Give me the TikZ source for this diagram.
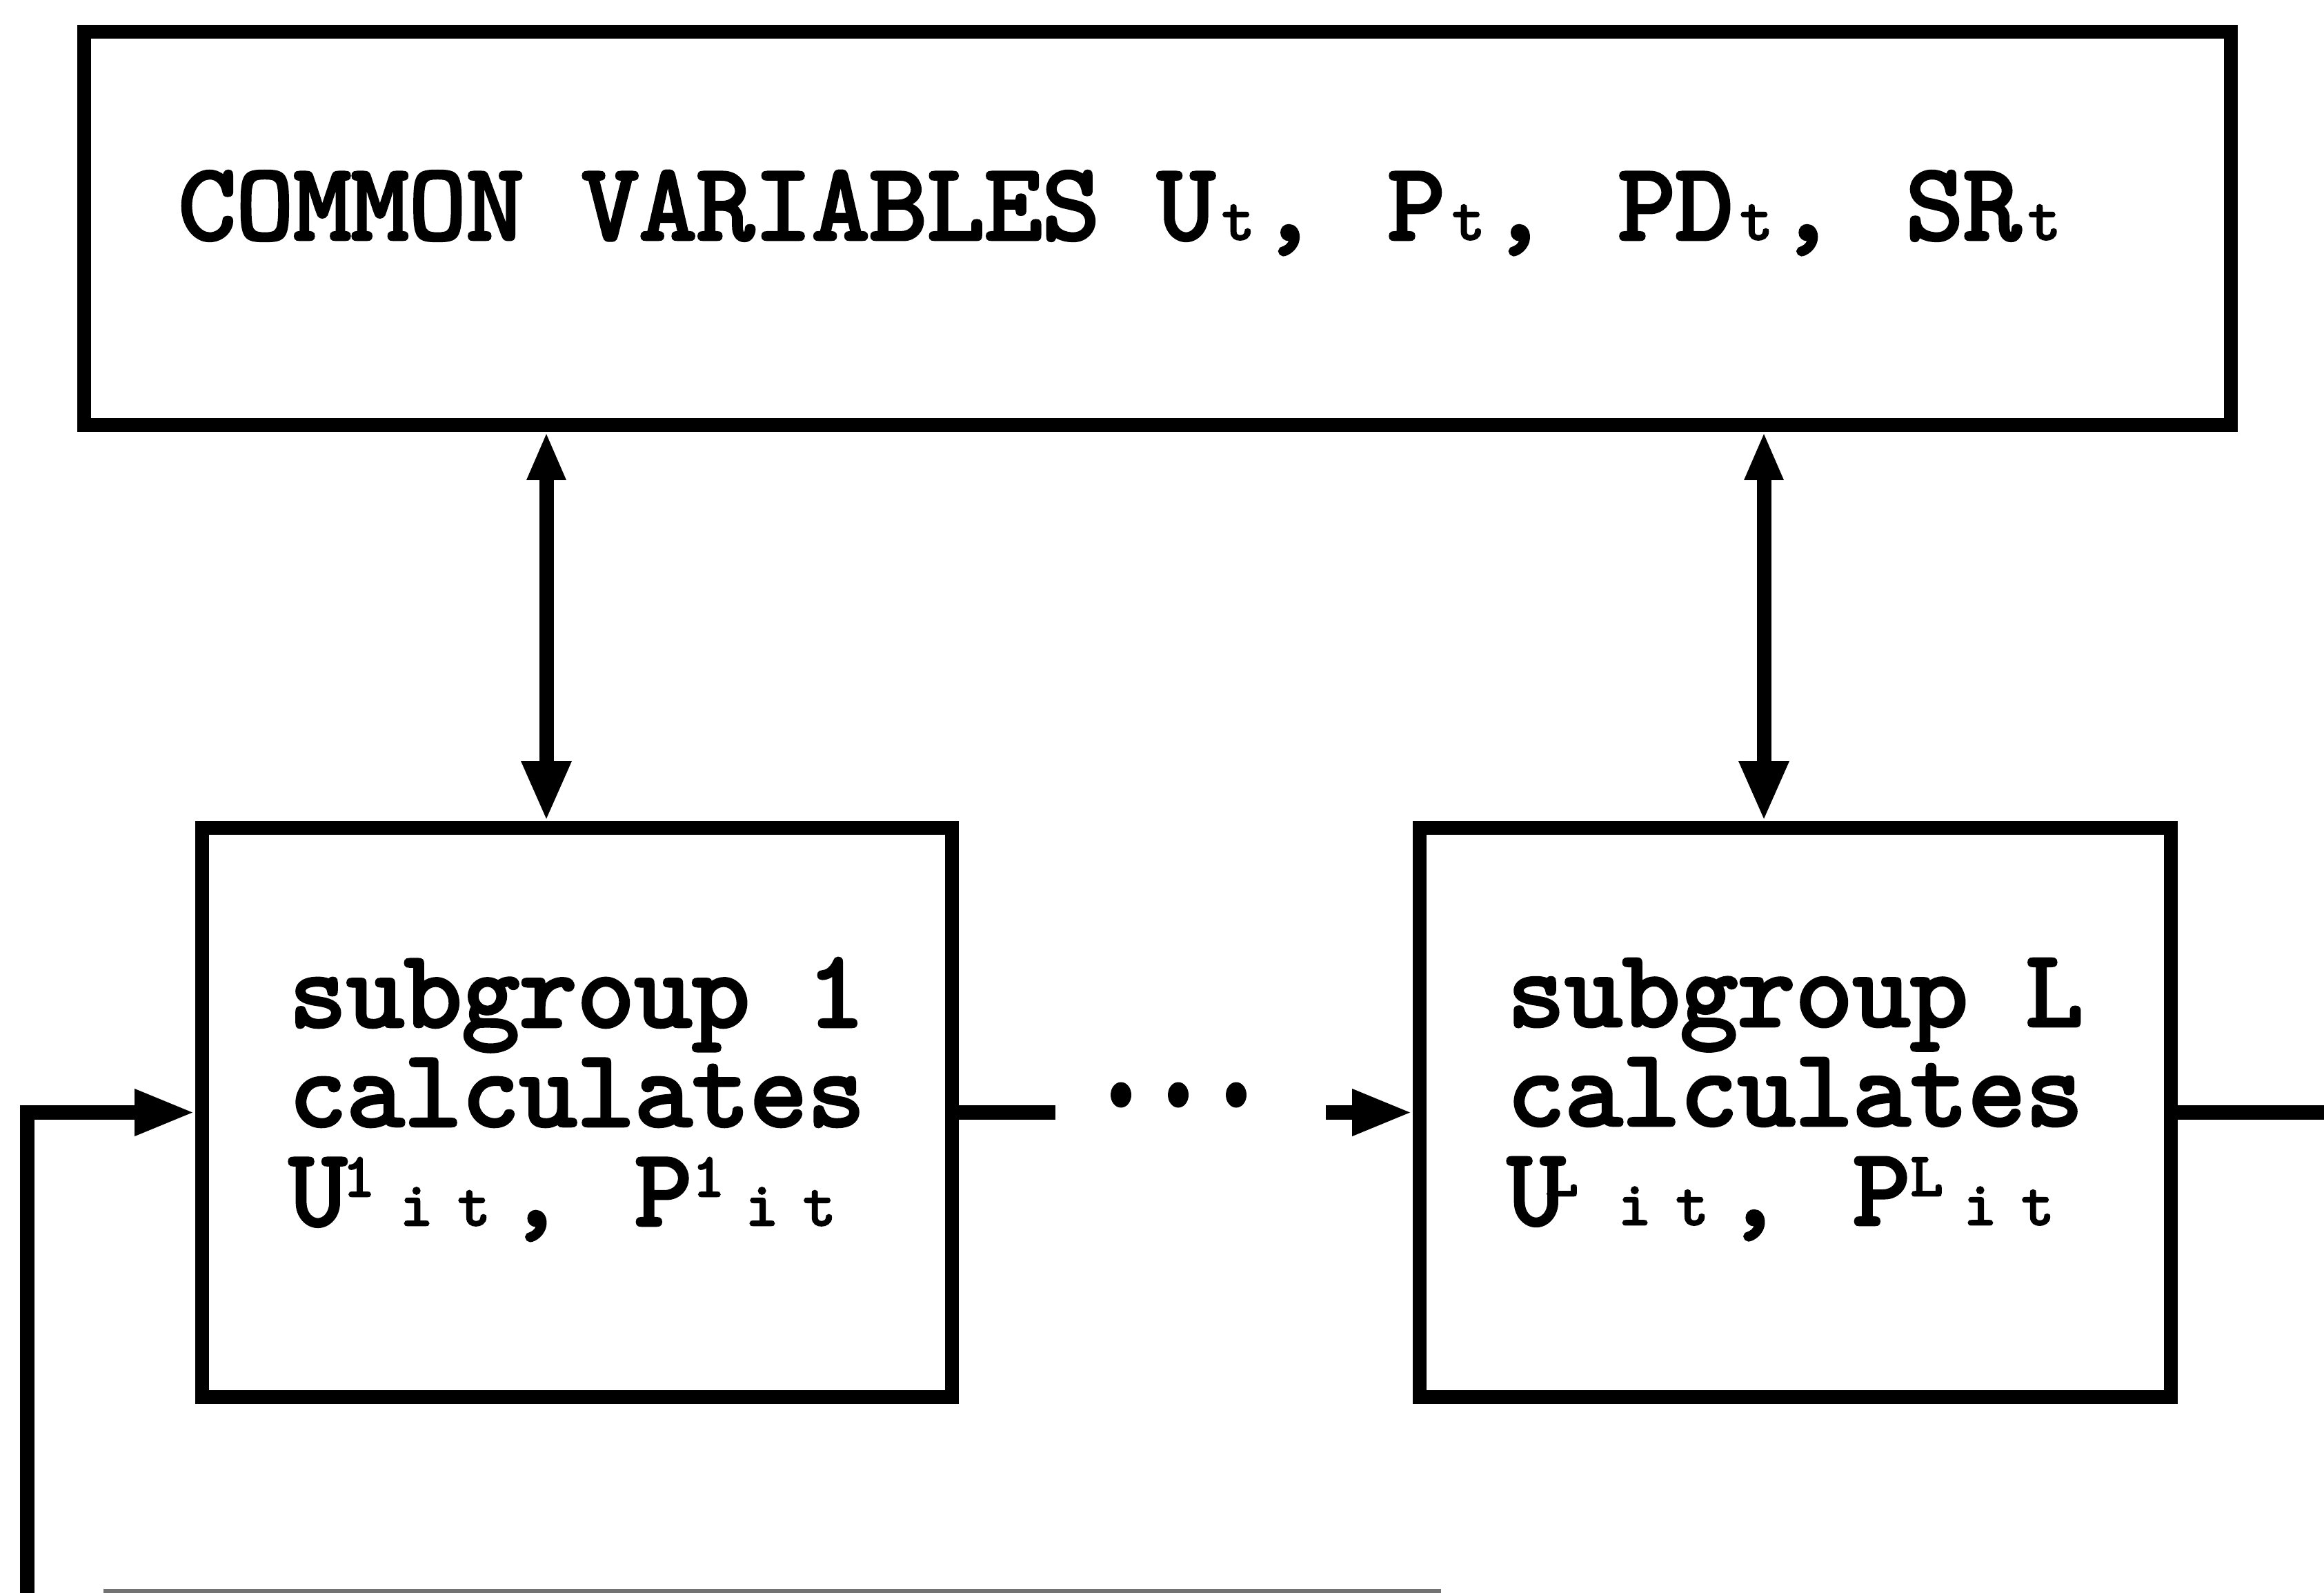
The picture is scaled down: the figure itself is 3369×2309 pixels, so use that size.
\documentclass[tikz,border=0pt]{standalone}
\usepackage{fontspec}
\usetikzlibrary{arrows.meta}

% heavy typewriter face
\newfontfamily\typer{lmmono10-regular}[Extension=.otf, FakeBold=3]

% monospaced cell width of the main face (0.525 em at 15.9pt)
\newlength\cellw
\setlength\cellw{8.3475pt}
\newcommand\mainface{\typer\fontsize{15.9}{14.4}\selectfont}
\newcommand\smallface{\typer\fontsize{9}{9}\selectfont}
% small character sitting on the baseline, one cell wide
\newcommand\lowch[1]{\makebox[\cellw][l]{\kern-0.6pt\smallface #1}}
% small baseline character centred in its cell
\newcommand\lowchc[1]{\makebox[\cellw][c]{\kern-1.6pt\smallface #1}}
% small raised character, one cell wide, optionally pulled left
\newcommand\upch[2][0pt]{\makebox[\cellw][l]{\kern#1\raisebox{4.2pt}{\smallface #2}}}
% comma set towards the left of its cell
\newcommand\tcomma{\kern-1.8pt,\kern1.8pt}

\begin{document}
\begin{tikzpicture}[x=0.1pt, y=-0.1pt,
  box/.style={draw, line width=2pt, inner sep=0pt, font=\mainface},
  link/.style={line width=2.1pt},
  arrowto/.style={link, -{Triangle[length=8.8pt,width=6.2pt]}},
  biarrow/.style={link, {Triangle[length=7pt,width=5.2pt]}-{Triangle[length=8.7pt,width=6.7pt]}}]

  \useasboundingbox (0,0) rectangle (3369,2309);
  \fill[white] (0,0) rectangle (3369,2309);
  \clip (0,0) rectangle (3369,2309);

  % shared variables
  \node[box, minimum width=311.2pt, minimum height=57pt, text depth=6.7pt]
    (common) at (1678,331)
    {\hbox{COMMON VARIABLES U\lowchc{t}\tcomma{} P\lowchc{t}\tcomma{} PD\lowchc{t}\tcomma{} SR\lowchc{t}\kern8.4pt}};

  % subgroups
  \node[box, minimum width=108.7pt, minimum height=82.5pt, text depth=6pt]
    (sg1) at (836.5,1612.5)
    {\vbox{\baselineskip=14.4pt\lineskiplimit=-\maxdimen
      \hbox{subgroup 1}
      \hbox{calculates}
      \hbox{U\upch[-0.6pt]{1}\lowch{i}\lowch{t}\tcomma{} P\upch{1}\lowch{i}\lowch{t}}}};

  \node[box, minimum width=108.9pt, minimum height=82.5pt, text depth=6pt]
    (sgL) at (2602.5,1612.5)
    {\vbox{\baselineskip=14.4pt\lineskiplimit=-\maxdimen
      \hbox{subgroup L}
      \hbox{calculates}
      \hbox{U\upch[-2.8pt]{L}\lowch{i}\lowch{t}\tcomma{} P\upch{L}\lowch{i}\lowch{t}}}};

  % box below, only its top edge inside the frame
  \node[draw=black!55, line width=1.2pt, minimum width=192.7pt, minimum height=30pt,
        inner sep=0pt, anchor=north west]
    (agg) at (150,2303) {};

  % exchange with the shared variables
  \coordinate (c1) at ([xshift=-4.45pt]sg1.north);
  \coordinate (c2) at ([xshift=-4.55pt]sgL.north);
  \draw[biarrow] (c1 |- common.south) -- (c1);
  \draw[biarrow] (c2 |- common.south) -- (c2);

  % feedback into subgroup 1
  \coordinate (fbin) at (39,2340);
  \draw[arrowto] (fbin) |- (sg1.west);

  % chain of subgroups
  \coordinate (dl) at ([xshift=14pt]sg1.east);
  \coordinate (dr) at ([xshift=-12.6pt]sgL.west);
  \draw[link] (sg1.east) -- (dl);
  \foreach \d in {1625,1708,1792}
    \fill (\d,1587) ellipse [x radius=1.5pt, y radius=1.85pt];
  \draw[arrowto] (dr) -- (sgL.west);

  % output of subgroup L
  \coordinate (out) at (3400,1612.5);
  \draw[link] (sgL.east) -- (out);
\end{tikzpicture}
\end{document}
